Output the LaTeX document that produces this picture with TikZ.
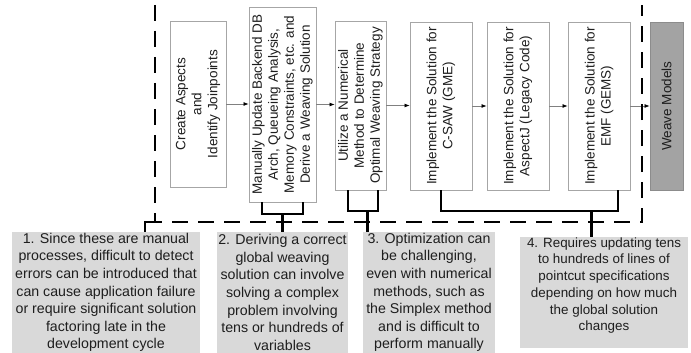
\documentclass[tikz,border=0pt]{standalone}
\usepackage{fontspec}
\setmainfont{Liberation Sans}
\usetikzlibrary{arrows.meta}
\definecolor{boxgray}{HTML}{A6A6A6}
\definecolor{txt}{HTML}{1E1E1E}
\definecolor{notefill}{HTML}{D9D9D9}
\definecolor{weavefill}{HTML}{A3A3A3}
\definecolor{weavedraw}{HTML}{8C8C8C}
\definecolor{arrgray}{HTML}{808080}
\begin{document}
\begin{tikzpicture}[x=1pt,y=-1pt,
  stepbox/.style={draw=boxgray, line width=0.9pt, fill=white, rotate=90, inner sep=0pt,
    align=center, text=txt, font=\fontsize{13.5}{16}\selectfont},
  weavebox/.style={stepbox, fill=weavefill, draw=weavedraw},
  note/.style={fill=notefill, inner sep=0pt, align=center, text=txt,
    font=\fontsize{14.2}{17.6}\selectfont},
  note4/.style={note, font=\fontsize{13.4}{16.7}\selectfont},
  flow/.style={draw=arrgray, line width=0.7pt, -{Latex[length=5pt,width=4pt,black]}},
  brk/.style={draw=black, line width=2.2pt},
  frame/.style={draw=black, line width=2.4pt, dash pattern=on 16pt off 10pt}
]
\useasboundingbox (0,0) rectangle (691,353);

% process boxes (rotated text)
\node[stepbox, minimum width=166pt, minimum height=56pt] (b1) at (198,104)
  {Create Aspects\\and\\Identify Joinpoints};
\node[stepbox, minimum width=195pt, minimum height=67pt] (b2) at (282.5,104.5)
  {Manually Update Backend DB\\Arch, Queueing Analysis,\\Memory Constraints, etc. and\\Derive a Weaving Solution};
\node[stepbox, minimum width=169pt, minimum height=51pt] (b3) at (360.5,105.5)
  {Utilize a Numerical\\Method to Determine\\Optimal Weaving Strategy};
\node[stepbox, minimum width=168pt, minimum height=62pt] (b4) at (441,106)
  {Implement the Solution for\\C-SAW (GME)};
\node[stepbox, minimum width=168pt, minimum height=62pt] (b5) at (518,106)
  {Implement the Solution for\\AspectJ (Legacy Code)};
\node[stepbox, minimum width=168pt, minimum height=62pt] (b6) at (599,106)
  {Implement the Solution for\\EMF (GEMS)};
\node[weavebox, minimum width=168pt, minimum height=33pt] (b7) at (666.5,106)
  {Weave Models};

% flow arrows (south = right side, north = left side of rotated boxes)
\draw[flow] (b1.south) -- (b2.north |- b1.south);
\draw[flow] (b2.south) -- (b3.north |- b2.south);
\draw[flow] (b3.south) -- (b4.north |- b3.south);
\draw[flow] (b4.south) -- (b5.north);
\draw[flow] (b5.south) -- (b6.north);
\draw[flow] (b6.south) -- (b7.north);

% notes
\node[note, minimum width=188pt, minimum height=121pt] (n1) at (106,292.5)
  {1. Since these are manual\\processes, difficult to detect\\errors can be introduced that\\can cause application failure\\or require significant solution\\factoring late in the\\development cycle};
\node[note, minimum width=131pt, minimum height=121pt] (n2) at (282.5,292.5)
  {2. Deriving a correct\\global weaving\\solution can involve\\solving a complex\\problem involving\\tens or hundreds of\\variables};
\node[note, minimum width=132pt, minimum height=121pt] (n3) at (429,292.5)
  {3. Optimization can\\be challenging,\\even with numerical\\methods, such as\\the Simplex method\\and is difficult to\\perform manually};
\node[note4, minimum width=168pt, minimum height=111pt] (n4) at (604,292.5)
  {4. Requires updating tens\\to hundreds of lines of\\pointcut specifications\\depending on how much\\the global solution\\changes\\\mbox{}};

% dashed frame
\coordinate (fa) at (155,5);
\coordinate (fb) at (155,222);
\coordinate (fc) at (642,222);
\coordinate (fd) at (642,5);
\draw[frame] (fa) -- (fb) -- (fc) -- (fd);

% connector for note 1
\coordinate (c1) at (145,222);
\coordinate (c1e) at (158,222);
\draw[brk] (n1.north -| c1) -- (c1) -- (c1e);

% bracket for box 2
\coordinate (k2a) at (262,214);
\coordinate (k2b) at (303,214);
\coordinate (k2m) at (282.5,214);
\draw[brk] (b2.west -| k2a) -- (k2a) -- (k2b) -- (b2.west -| k2b);
\draw[brk] (k2m) -- (n2.north -| k2m);

% bracket for box 3
\coordinate (k3a) at (348,211);
\coordinate (k3b) at (378,211);
\coordinate (k3m) at (367.5,211);
\draw[brk] (b3.west -| k3a) -- (k3a) -- (k3b) -- (b3.west -| k3b);
\draw[brk] (k3m) -- (n3.north -| k3m);

% bracket for boxes 4-6
\coordinate (k4a) at (441,211);
\coordinate (k4b) at (618,211);
\coordinate (k4m) at (591.5,211);
\draw[brk] (b4.west -| k4a) -- (k4a) -- (k4b) -- (b6.west -| k4b);
\draw[brk] (k4m) -- (n4.north -| k4m);
\end{tikzpicture}
\end{document}
